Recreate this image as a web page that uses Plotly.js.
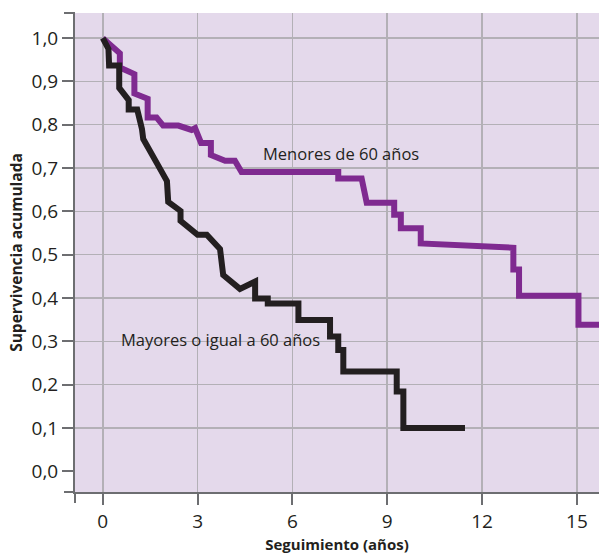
<!DOCTYPE html>
<html>
<head>
<meta charset="utf-8">
<script src="https://cdn.plot.ly/plotly-3.0.1.min.js"></script>
<style>html,body{margin:0;padding:0;background:#fff;}#chart{width:599px;height:555px;}</style>
</head>
<body>
<div id="chart"></div>
<script>
// Menores de 60 años (purple curve)
const menoresX = [0, 0.54, 0.54, 1.00, 1.00, 1.42, 1.42, 1.70, 1.91, 2.39, 2.81, 2.92, 3.11, 3.42, 3.42, 3.87, 4.18, 4.39, 7.45, 7.45, 8.19, 8.35, 9.22, 9.22, 9.43, 9.43, 10.06, 10.06, 12.99, 12.99, 13.17, 13.17, 15.05, 15.05, 15.9];
const menoresY = [1.0, 0.965, 0.932, 0.917, 0.872, 0.860, 0.817, 0.817, 0.798, 0.798, 0.788, 0.792, 0.758, 0.758, 0.730, 0.717, 0.717, 0.691, 0.691, 0.676, 0.676, 0.620, 0.620, 0.592, 0.592, 0.561, 0.561, 0.526, 0.516, 0.466, 0.466, 0.405, 0.405, 0.338, 0.338];
// Mayores o igual a 60 años (black curve)
const mayoresX = [0, 0.18, 0.20, 0.52, 0.52, 0.82, 0.82, 1.09, 1.24, 1.28, 1.76, 1.88, 2.03, 2.07, 2.46, 2.46, 3.00, 3.29, 3.71, 3.81, 4.34, 4.82, 4.82, 5.22, 5.22, 6.19, 6.19, 7.19, 7.19, 7.45, 7.45, 7.61, 7.61, 9.30, 9.30, 9.51, 9.51, 11.46];
const mayoresY = [1.0, 0.975, 0.937, 0.937, 0.885, 0.857, 0.835, 0.835, 0.790, 0.767, 0.705, 0.690, 0.670, 0.622, 0.601, 0.578, 0.546, 0.546, 0.513, 0.453, 0.421, 0.438, 0.399, 0.399, 0.387, 0.387, 0.349, 0.349, 0.311, 0.311, 0.280, 0.280, 0.230, 0.230, 0.184, 0.184, 0.10, 0.10];

const xTicks = [0, 3, 6, 9, 12, 15];
const yTicks = [0, 0.1, 0.2, 0.3, 0.4, 0.5, 0.6, 0.7, 0.8, 0.9, 1.0];
const yTickText = ['0,0', '0,1', '0,2', '0,3', '0,4', '0,5', '0,6', '0,7', '0,8', '0,9', '1,0'];
const yGrid = [0.1, 0.2, 0.3, 0.4, 0.5, 0.6, 0.7, 0.8, 0.9, 1.0];

const labelMenores = 'Menores de 60 años';
const labelMayores = 'Mayores o igual a 60 años';

const FONT = 'Open Sans, Noto Sans, sans-serif';
const TXT = '#231f20';
const AX = '#6d6e71';
const GRID = '#b3b0b6';

const traces = [
  {x: menoresX, y: menoresY, mode: 'lines', name: labelMenores,
   line: {color: '#7f2a90', width: 6}, hoverinfo: 'skip'},
  {x: mayoresX, y: mayoresY, mode: 'lines', name: labelMayores,
   line: {color: '#231f20', width: 6}, hoverinfo: 'skip'}
];

const layout = {
  width: 599, height: 555,
  margin: {l: 75, r: 0, t: 13, b: 63, pad: 0},
  paper_bgcolor: '#ffffff',
  plot_bgcolor: '#e4d9eb',
  showlegend: false,
  font: {family: FONT, color: TXT},
  xaxis: {
    range: [-0.879, 15.70],
    tickmode: 'array', tickvals: xTicks,
    ticks: 'outside', ticklen: 11, tickwidth: 2, tickcolor: AX,
    showline: true, linecolor: AX, linewidth: 2,
    showgrid: true, gridcolor: GRID, gridwidth: 1.5,
    zeroline: false,
    tickfont: {family: FONT, size: 19, color: TXT},
    title: {text: 'Seguimiento (años)', font: {family: FONT, size: 15, color: TXT, weight: 'bold'}, standoff: 4}
  },
  yaxis: {
    range: [-0.048, 1.058],
    tickmode: 'array', tickvals: yTicks, ticktext: yTickText,
    ticks: 'outside', ticklen: 11, tickwidth: 2, tickcolor: AX,
    showline: true, linecolor: AX, linewidth: 2,
    showgrid: false, zeroline: false,
    minor: {tickmode: 'array', tickvals: yGrid, showgrid: true, gridcolor: GRID, gridwidth: 1.5, ticks: ''},
    tickfont: {family: FONT, size: 19, color: TXT},
    title: {text: 'Supervivencia acumulada', font: {family: FONT, size: 15.5, color: TXT, weight: 'bold'}, standoff: 5}
  },
  shapes: [
    {type: 'line', xref: 'paper', yref: 'paper', x0: -11/524, x1: 0, y0: 1, y1: 1, line: {color: AX, width: 2}},
    {type: 'line', xref: 'paper', yref: 'paper', x0: -11/524, x1: 0, y0: 0, y1: 0, line: {color: AX, width: 2}},
    {type: 'line', xref: 'paper', yref: 'paper', x0: 0, x1: 0, y0: 0, y1: -11/479, line: {color: AX, width: 2}}
  ],
  annotations: [
    {x: 7.53, y: 0.734, xref: 'x', yref: 'y', text: labelMenores, showarrow: false,
     font: {family: FONT, size: 16.5, color: TXT}},
    {x: 3.71, y: 0.303, xref: 'x', yref: 'y', text: labelMayores, showarrow: false,
     font: {family: FONT, size: 16.5, color: TXT}}
  ]
};

Plotly.newPlot('chart', traces, layout, {staticPlot: true, displayModeBar: false});
</script>
</body>
</html>
